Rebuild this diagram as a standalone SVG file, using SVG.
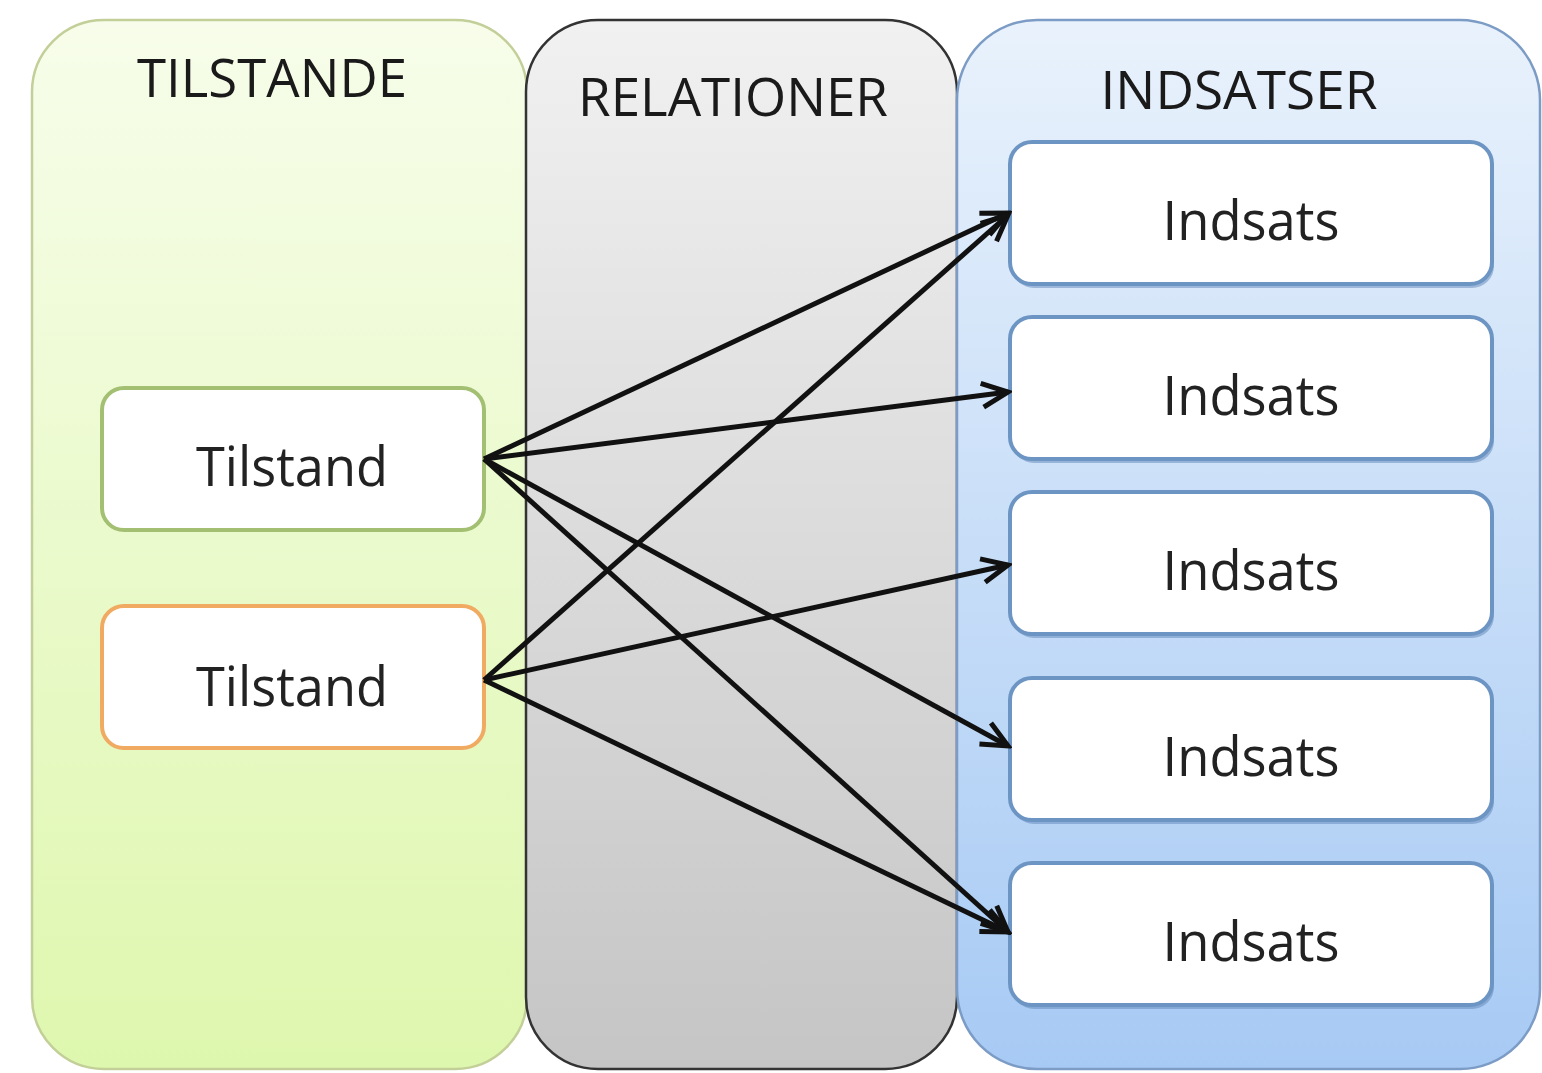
<svg xmlns="http://www.w3.org/2000/svg" width="1542" height="1073" viewBox="0 0 1542 1073">
<defs>
<linearGradient id="gGreen" x1="0" y1="0" x2="0" y2="1"><stop offset="0" stop-color="#f7fdea"/><stop offset="1" stop-color="#def7ae"/></linearGradient>
<linearGradient id="gGray" x1="0" y1="0" x2="0" y2="1"><stop offset="0" stop-color="#f1f1f1"/><stop offset="1" stop-color="#c5c5c5"/></linearGradient>
<linearGradient id="gBlue" x1="0" y1="0" x2="0" y2="1"><stop offset="0" stop-color="#e9f2fc"/><stop offset="1" stop-color="#a7caf4"/></linearGradient>
<marker id="arr" markerUnits="userSpaceOnUse" viewBox="0 0 34 34" markerWidth="34" markerHeight="34" refX="30" refY="17" orient="auto">
<path d="M4,5 L30,17 L4,29" fill="none" stroke="#111" stroke-width="5" stroke-linejoin="miter"/>
</marker>
</defs>
<style>
.title{font-family:"Open Sans","Liberation Sans",sans-serif;font-size:53px;fill:#1a1a1a;text-anchor:middle}
.lbl{font-family:"Open Sans","Liberation Sans",sans-serif;font-size:54px;fill:#222;text-anchor:middle}
.tbox{fill:#ffffff;stroke-width:4}
.ibox{fill:#ffffff;stroke:#6d95c4;stroke-width:4}
.ishadow{fill:#5f86b8;opacity:0.5}
.conn line{stroke:#111;stroke-width:5;marker-end:url(#arr)}
</style>
<rect width="1542" height="1073" fill="#ffffff"/>
<g id="panel-tilstande">
<rect x="32" y="20" width="495" height="1049" rx="72" ry="72" fill="url(#gGreen)" stroke="#c3cf98" stroke-width="2.5"/>
<text class="title" x="272" y="97" textLength="270" lengthAdjust="spacingAndGlyphs">TILSTANDE</text>
</g>
<g id="panel-relationer">
<rect x="526" y="20" width="431" height="1049" rx="72" ry="72" fill="url(#gGray)" stroke="#333333" stroke-width="2.5"/>
<text class="title" x="733" y="116" textLength="310" lengthAdjust="spacingAndGlyphs">RELATIONER</text>
</g>
<g id="panel-indsatser">
<rect x="957" y="20" width="583" height="1049" rx="80" ry="80" fill="url(#gBlue)" stroke="#7c9cc6" stroke-width="2.5"/>
<text class="title" x="1239" y="109" textLength="277" lengthAdjust="spacingAndGlyphs">INDSATSER</text>
</g>
<g id="tilstand-1">
<rect class="tbox" x="102" y="388" width="382" height="142" rx="22" stroke="#a3bf72"/>
<text class="lbl" x="292" y="486" textLength="192" lengthAdjust="spacingAndGlyphs">Tilstand</text>
</g>
<g id="tilstand-2">
<rect class="tbox" x="102" y="606" width="382" height="142" rx="22" stroke="#f0aa62"/>
<text class="lbl" x="292" y="706" textLength="192" lengthAdjust="spacingAndGlyphs">Tilstand</text>
</g>
<g id="indsats-1">
<rect class="ishadow" x="1012" y="146" width="482" height="142" rx="22"/>
<rect class="ibox" x="1010" y="142" width="482" height="142" rx="22"/>
<text class="lbl" x="1251" y="240" textLength="177" lengthAdjust="spacingAndGlyphs">Indsats</text>
</g>
<g id="indsats-2">
<rect class="ishadow" x="1012" y="321" width="482" height="142" rx="22"/>
<rect class="ibox" x="1010" y="317" width="482" height="142" rx="22"/>
<text class="lbl" x="1251" y="415" textLength="177" lengthAdjust="spacingAndGlyphs">Indsats</text>
</g>
<g id="indsats-3">
<rect class="ishadow" x="1012" y="496" width="482" height="142" rx="22"/>
<rect class="ibox" x="1010" y="492" width="482" height="142" rx="22"/>
<text class="lbl" x="1251" y="590" textLength="177" lengthAdjust="spacingAndGlyphs">Indsats</text>
</g>
<g id="indsats-4">
<rect class="ishadow" x="1012" y="682" width="482" height="142" rx="22"/>
<rect class="ibox" x="1010" y="678" width="482" height="142" rx="22"/>
<text class="lbl" x="1251" y="776" textLength="177" lengthAdjust="spacingAndGlyphs">Indsats</text>
</g>
<g id="indsats-5">
<rect class="ishadow" x="1012" y="867" width="482" height="142" rx="22"/>
<rect class="ibox" x="1010" y="863" width="482" height="142" rx="22"/>
<text class="lbl" x="1251" y="961" textLength="177" lengthAdjust="spacingAndGlyphs">Indsats</text>
</g>
<g id="connectors" class="conn">
<line x1="484" y1="459" x2="1008" y2="213"/>
<line x1="484" y1="459" x2="1008" y2="392"/>
<line x1="484" y1="459" x2="1008" y2="746"/>
<line x1="484" y1="459" x2="1008" y2="932"/>
<line x1="484" y1="680" x2="1008" y2="215"/>
<line x1="484" y1="680" x2="1008" y2="565"/>
<line x1="484" y1="680" x2="1008" y2="932"/>
</g>
</svg>
